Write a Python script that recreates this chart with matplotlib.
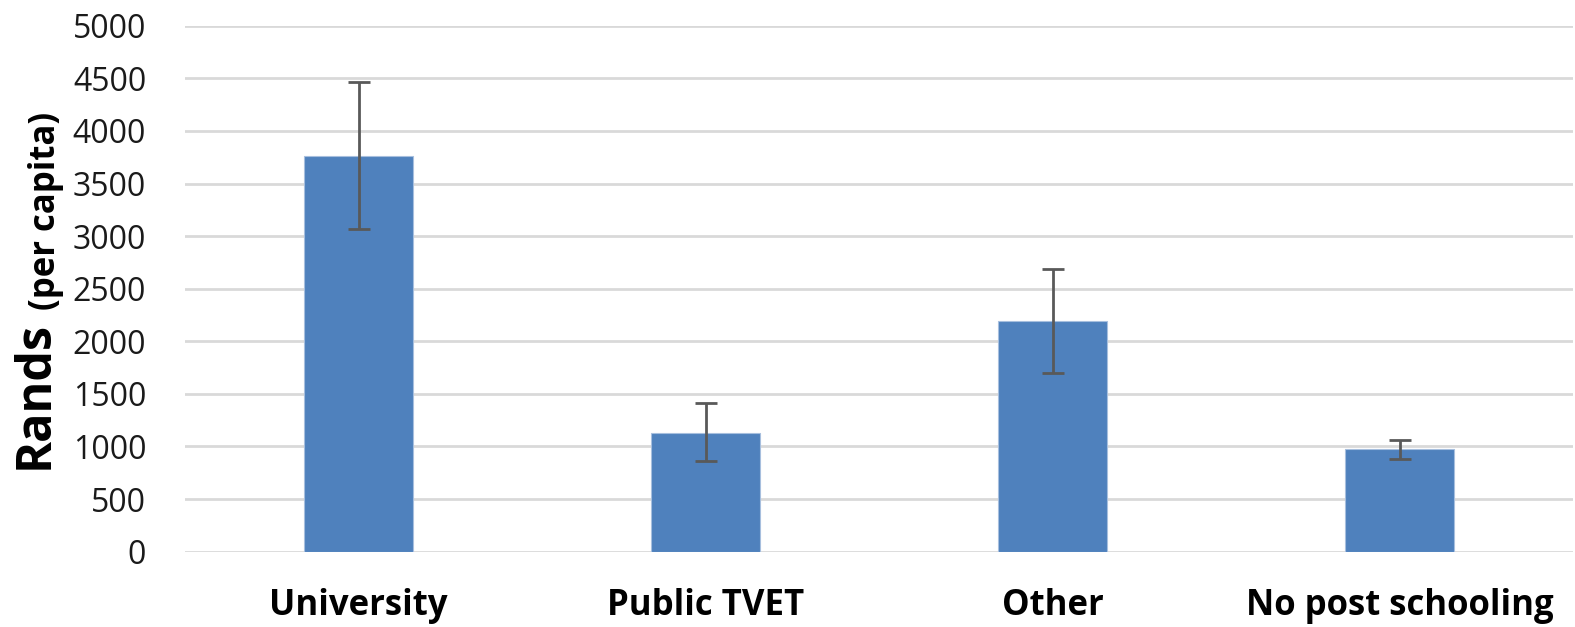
# ------------------------------------------------------------------------------------------------------------------ #
# Import Required Libraries
# ------------------------------------------------------------------------------------------------------------------ #
import matplotlib.pyplot as plt
# ------------------------------------------------------------------------------------------------------------------ #

# ------------------------------------------------------------------------------------------------------------------ #
# Data
# ------------------------------------------------------------------------------------------------------------------ #
categories = ["University", "Public TVET", "Other", "No post schooling"]
rands = [3765, 1125, 2193, 973]
err_low = [698, 263, 494, 92]
err_high = [703, 291, 494, 89]
yticks = [0, 500, 1000, 1500, 2000, 2500, 3000, 3500, 4000, 4500, 5000]
# ------------------------------------------------------------------------------------------------------------------ #

plt.rcParams['font.family'] = ['Open Sans', 'DejaVu Sans']

fig = plt.figure(figsize=(15.75, 6.27), dpi=100)
ax = fig.add_axes([0.1175, 0.1201, 0.8815, 0.8389])

x = range(len(categories))
ax.bar(x, rands, width=0.314, color='#4F81BD', edgecolor='#A7BFDE', linewidth=0.8, zorder=3)
ax.errorbar(x, rands, yerr=[err_low, err_high], fmt='none', ecolor='#595959',
            elinewidth=2, capsize=8, capthick=2, zorder=4)

# ------------------------------------------------------------------------------------------------------------------ #
# Axes Styling
# ------------------------------------------------------------------------------------------------------------------ #
ax.set_xlim(-0.5, len(categories) - 0.5)
ax.set_ylim(0, 5000)
ax.set_yticks(yticks)
ax.set_yticklabels([str(v) for v in yticks], fontsize=23, color='#1a1a1a')
ax.set_xticks(list(x))
ax.set_xticklabels(categories, fontsize=25, fontweight='bold', color='black')
ax.tick_params(axis='y', length=0, pad=28)
ax.tick_params(axis='x', length=0, pad=26)
ax.yaxis.grid(True, color='#D9D9D9', linewidth=2, zorder=0)
ax.set_axisbelow(True)
for s in ax.spines.values():
    s.set_visible(False)

# two-size y label, as in the original
fig.text(0.022, 0.370, "Rands", rotation=90, fontsize=35, fontweight='bold', ha='center', va='center')
fig.text(0.029, 0.664, "(per capita)", rotation=90, fontsize=25, fontweight='bold', ha='center', va='center')

plt.savefig("out.png", dpi=100)
